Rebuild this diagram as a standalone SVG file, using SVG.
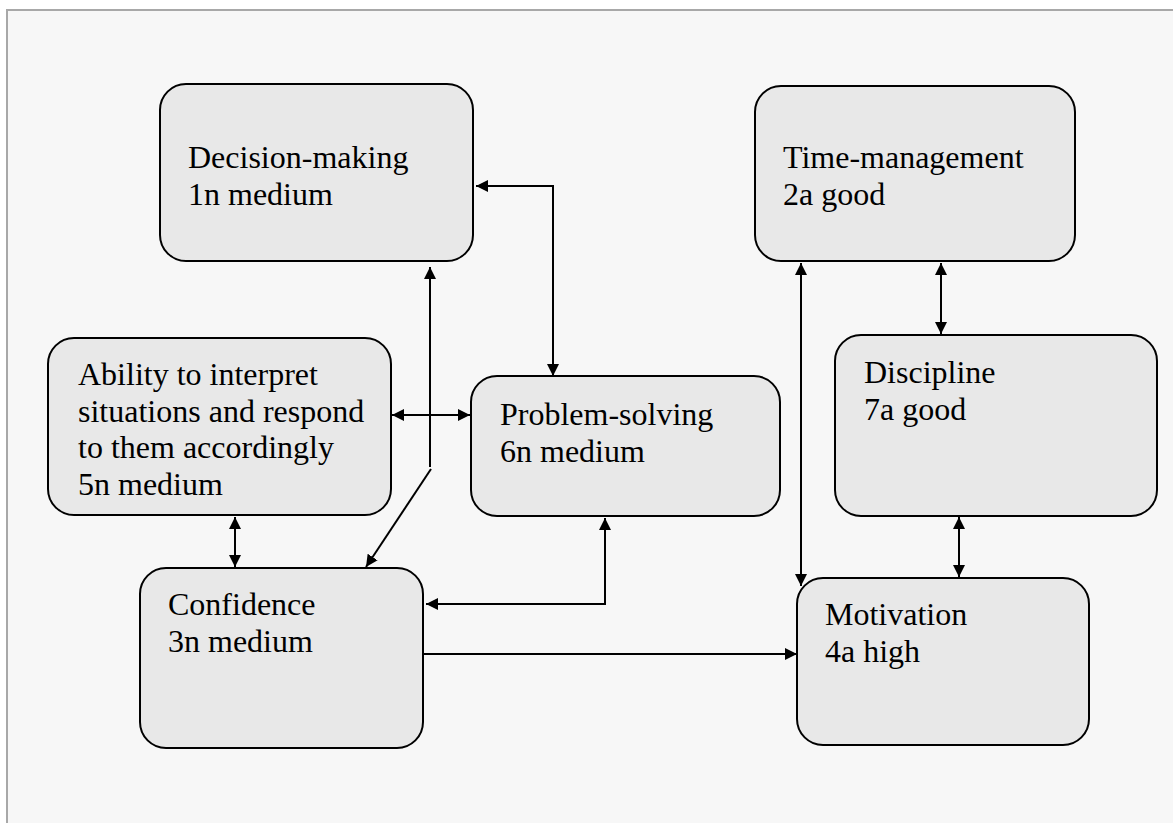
<svg xmlns="http://www.w3.org/2000/svg" width="1173" height="823" viewBox="0 0 1173 823">
<defs>
<style>
.box{fill:#e8e8e8;stroke:#000;stroke-width:2}
.lbl{font-family:"Liberation Serif","Times New Roman",serif;font-size:32px;fill:#000}
.con{fill:none;stroke:#000;stroke-width:2}
</style>
<marker id="ah" viewBox="0 0 12 12" refX="12" refY="6" markerWidth="12" markerHeight="12" markerUnits="userSpaceOnUse" orient="auto-start-reverse">
<path d="M0,0 L12,6 L0,12 Z" fill="#000"/>
</marker>
</defs>
<rect x="0" y="0" width="1173" height="823" fill="#fff"/>
<rect x="7" y="10" width="1200" height="900" fill="#f7f7f7" stroke="#a8a8a8" stroke-width="2"/>

<g id="decision-making">
<rect class="box" x="160" y="84" width="313" height="177" rx="26"/>
<text class="lbl" x="188" y="168">Decision-making</text>
<text class="lbl" x="188" y="205">1n medium</text>
</g>
<g id="time-management">
<rect class="box" x="755" y="86" width="320" height="175" rx="26"/>
<text class="lbl" x="783" y="168">Time-management</text>
<text class="lbl" x="783" y="205">2a good</text>
</g>
<g id="ability">
<rect class="box" x="48" y="338" width="343" height="177" rx="26"/>
<text class="lbl" x="78" y="385">Ability to interpret</text>
<text class="lbl" x="78" y="422">situations and respond</text>
<text class="lbl" x="78" y="458">to them accordingly</text>
<text class="lbl" x="78" y="495">5n medium</text>
</g>
<g id="problem-solving">
<rect class="box" x="471" y="376" width="309" height="140" rx="26"/>
<text class="lbl" x="500" y="425">Problem-solving</text>
<text class="lbl" x="500" y="462">6n medium</text>
</g>
<g id="discipline">
<rect class="box" x="835" y="335" width="322" height="181" rx="26"/>
<text class="lbl" x="864" y="383">Discipline</text>
<text class="lbl" x="864" y="420">7a good</text>
</g>
<g id="confidence">
<rect class="box" x="140" y="568" width="283" height="180" rx="26"/>
<text class="lbl" x="168" y="615">Confidence</text>
<text class="lbl" x="168" y="652">3n medium</text>
</g>
<g id="motivation">
<rect class="box" x="797" y="578" width="292" height="167" rx="26"/>
<text class="lbl" x="825" y="625">Motivation</text>
<text class="lbl" x="825" y="662">4a high</text>
</g>

<g id="connectors">
<path class="con" d="M476,186 H553 V376" marker-start="url(#ah)" marker-end="url(#ah)"/>
<path class="con" d="M430,467 V267" marker-end="url(#ah)"/>
<path class="con" d="M431,469 L366,567" marker-end="url(#ah)"/>
<path class="con" d="M392,415 H470" marker-start="url(#ah)" marker-end="url(#ah)"/>
<path class="con" d="M235,517 V567" marker-start="url(#ah)" marker-end="url(#ah)"/>
<path class="con" d="M605,518 V604 H426" marker-start="url(#ah)" marker-end="url(#ah)"/>
<path class="con" d="M424,654 H797" marker-end="url(#ah)"/>
<path class="con" d="M801,263 V586" marker-start="url(#ah)" marker-end="url(#ah)"/>
<path class="con" d="M941,263 V334" marker-start="url(#ah)" marker-end="url(#ah)"/>
<path class="con" d="M959,517 V577" marker-start="url(#ah)" marker-end="url(#ah)"/>
</g>
</svg>
